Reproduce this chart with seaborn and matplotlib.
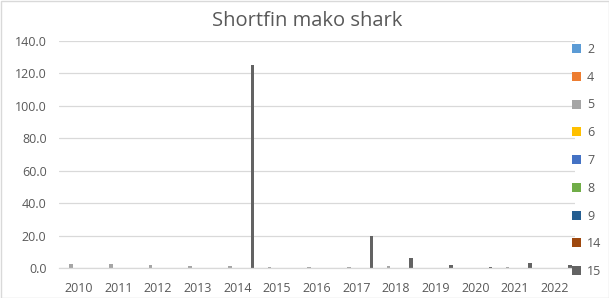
import matplotlib
matplotlib.use("Agg")
import matplotlib.pyplot as plt
import seaborn as sns
import pandas as pd
from matplotlib.patches import Rectangle, Patch
from matplotlib.ticker import FormatStrFormatter

years = ["2010", "2011", "2012", "2013", "2014", "2015", "2016",
         "2017", "2018", "2019", "2020", "2021", "2022"]
series_names = ["2", "4", "5", "6", "7", "8", "9", "14", "15"]
s2 = [0] * 13
s4 = [0] * 13
s5 = [2.4, 2.4, 1.8, 1.2, 1.2, 0.8, 0.8, 0.8, 1.4, 0, 0, 0.8, 0]
s6 = [0] * 13
s7 = [0] * 13
s8 = [0] * 13
s9 = [0] * 13
s14 = [0] * 13
s15 = [0, 0, 0, 0, 125.0, 0, 0, 20.0, 6.0, 1.8, 0.8, 3.0, 1.8]
colors = ["#5B9BD5", "#ED7D31", "#A5A5A5", "#FFC000", "#4472C4",
          "#70AD47", "#255E91", "#9E480E", "#636363"]

all_vals = [s2, s4, s5, s6, s7, s8, s9, s14, s15]
rows = []
for name, vals in zip(series_names, all_vals):
    for y, v in zip(years, vals):
        rows.append({"year": y, "series": name, "value": v})
df = pd.DataFrame(rows)

sns.set_style("white")
plt.rcParams["font.family"] = ["Open Sans", "DejaVu Sans"]

fig = plt.figure(figsize=(6.09, 2.98), dpi=100)
ax = fig.add_axes([59 / 609, 30 / 298, (574.5 - 59) / 609, (268 - 41) / 298])

sns.barplot(data=df, x="year", y="value", hue="series", hue_order=series_names,
            order=years, palette=colors, width=0.857, ax=ax, legend=False,
            saturation=1, errorbar=None, linewidth=0)

ax.set_ylim(0, 140)
ax.set_xlim(-0.5, 12.5)
ax.set_yticks(range(0, 141, 20))
ax.yaxis.set_major_formatter(FormatStrFormatter("%.1f"))
ax.grid(axis="y", color="#D9D9D9", linewidth=0.9)
ax.set_axisbelow(True)
for s in ["left", "right", "top"]:
    ax.spines[s].set_visible(False)
ax.spines["bottom"].set_color("#D9D9D9")
ax.spines["bottom"].set_linewidth(0.9)
ax.tick_params(axis="both", length=0, labelsize=9, colors="#595959")
ax.tick_params(axis="y", pad=9)
ax.tick_params(axis="x", pad=10)
ax.set_xlabel("")
ax.set_ylabel("")

fig.text(0.505, 1 - 21 / 298, "Shortfin mako shark", ha="center", va="center",
         fontsize=14.5, color="#595959")

handles = [Patch(facecolor=c, edgecolor="none") for c in colors]
fig.legend(handles, series_names, loc="upper left",
           bbox_to_anchor=(572 / 609, 1 - 43 / 298), frameon=False,
           fontsize=9, labelcolor="#595959", handlelength=0.75,
           handleheight=0.75, handletextpad=0.45, labelspacing=1.18,
           borderpad=0, borderaxespad=0)

fig.patches.append(Rectangle((0.5 / 609, 0.5 / 298), 1 - 1 / 609, 1 - 1 / 298,
                             transform=fig.transFigure, fill=False,
                             edgecolor="#D9D9D9", linewidth=1))

fig.savefig("out.png", dpi=100)
